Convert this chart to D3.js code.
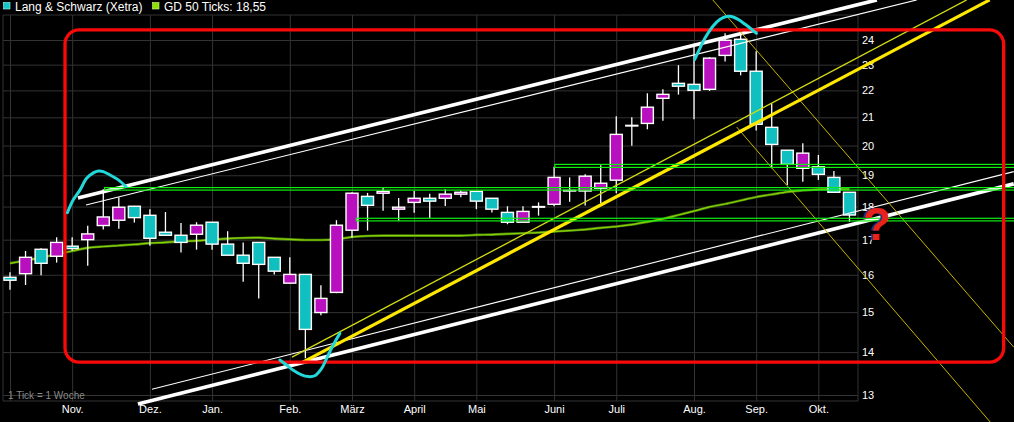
<!DOCTYPE html>
<html><head><meta charset="utf-8">
<script src="https://cdn.jsdelivr.net/npm/d3@7/dist/d3.min.js"></script>
<style>html,body{margin:0;padding:0;background:#000;overflow:hidden}svg{display:block;font-family:"Liberation Sans",Arial,sans-serif}</style>
</head><body><svg id="c" width="1014" height="422"></svg>
<script>
// ---------- data (weekly candles, Lang & Schwarz / Xetra) ----------
const weekIdx = d3.range(55);
const open  = [15.93,16.03,16.72,16.52,16.81,17.00,17.42,17.58,18.01,17.73,17.22,17.13,17.16,17.52,16.87,16.55,16.92,16.49,15.77,16.01,14.99,15.52,17.28,18.32,18.42,17.92,18.13,18.26,18.26,18.39,18.48,18.26,17.82,17.52,18.00,18.07,18.51,18.49,18.58,18.84,20.71,20.78,21.70,22.27,22.23,22.04,23.37,24.03,22.74,20.64,19.84,19.23,19.28,18.93,18.45];
const high  = [16.07,16.67,16.75,17.07,17.07,17.41,18.55,18.29,18.02,17.92,17.83,17.50,17.52,17.53,17.25,16.92,16.93,16.50,16.49,16.02,15.71,17.58,18.45,18.43,18.59,18.27,18.49,18.40,18.55,18.51,18.49,18.27,18.01,18.01,18.13,19.28,18.93,19.03,19.33,21.04,21.00,21.89,22.04,22.98,23.85,23.30,24.28,24.28,23.54,21.51,19.85,20.08,19.68,19.14,18.46];
const low   = [15.59,15.72,15.99,16.34,16.68,16.25,17.30,17.32,17.51,16.82,17.13,16.63,16.71,16.71,16.55,15.81,15.36,16.01,15.77,13.85,14.92,15.50,17.06,17.27,17.87,17.56,17.81,17.65,18.02,18.29,17.92,17.82,17.46,17.52,17.72,18.01,18.15,18.03,18.10,18.42,19.99,20.57,20.88,21.84,20.93,21.98,23.13,22.58,20.53,19.23,18.68,18.79,18.85,18.44,17.53];
const close = [15.85,16.49,16.32,16.92,16.74,17.17,17.68,17.98,17.66,17.04,17.13,16.92,17.43,16.87,16.55,16.32,16.29,16.10,16.01,14.56,15.36,17.43,18.42,18.04,18.48,17.98,18.26,18.17,18.39,18.45,18.17,17.92,17.52,17.85,18.00,18.93,18.51,18.97,18.74,20.39,20.71,21.37,21.85,22.16,22.00,23.26,23.99,22.74,20.75,20.04,19.36,19.74,19.03,18.45,17.74];
const ma50  = [16.32,16.40,16.48,16.58,16.67,16.76,16.80,16.83,16.86,16.90,16.92,16.95,16.97,17.00,17.03,17.05,17.06,17.03,17.01,16.99,16.99,17.01,17.08,17.11,17.12,17.12,17.12,17.12,17.12,17.12,17.14,17.15,17.17,17.19,17.21,17.24,17.27,17.30,17.35,17.39,17.45,17.53,17.62,17.74,17.86,17.99,18.08,18.19,18.30,18.38,18.46,18.51,18.54,18.55,18.55];

const monthIdx    = [0,4,9,13,18,22,26,30,35,39,44,48,52];
const monthLabels = ["","Nov.","Dez.","Jan.","Feb.","März","April","Mai","Juni","Juli","Aug.","Sep.","Okt."];
const priceTicks  = [13,14,15,16,17,18,19,20,21,22,23,24];
const legendItems = ["Lang & Schwarz (Xetra)","GD 50 Ticks: 18,55"];
const tickNote    = "1 Tick = 1 Woche";

// ---------- drawn annotations, in [week, price] ----------
const thickWhite = [[[4.37,18.27],[55.76,25.72]], [[8.23,12.80],[64.57,18.72]]];
const thinWhite  = [[[4.89,18.05],[58.33,25.72]], [[9.13,13.13],[64.57,19.12]]];
const thickYellow = [[18.84,13.76],[63.02,25.72]];
const thinYellow  = [[18.14,13.88],[61.54,25.72]];
const declineLines = [[[45.21,25.72],[64.57,14.12]], [[46.75,20.65],[63.15,12.37]]];
const greenBands = [[35.05,19.36,19.26],[6.08,18.60,18.52],[22.28,17.64,17.56]];
const redBox = {x0:3.54, x1:63.92, top:24.42, bottom:13.76};
const cyanArcs = [
  [[3.69,17.81],[4.07,18.21],[4.50,18.52],[4.93,18.90],[5.36,19.08],[5.68,19.14],[6.00,19.12],[6.43,19.01],[6.97,18.85],[7.46,18.63]],
  [[17.36,13.81],[17.79,13.69],[18.22,13.57],[18.76,13.46],[19.18,13.42],[19.61,13.44],[20.05,13.61],[20.37,13.85],[20.79,14.17],[21.22,14.46]],
  [[44.05,23.21],[44.33,23.59],[44.70,24.07],[45.23,24.59],[45.66,24.87],[46.09,24.99],[46.41,24.99],[46.84,24.87],[47.27,24.67],[47.70,24.45],[48.02,24.28]]
];
const questionMark = [55.76,17.0];

// ---------- layout ----------
const L=3, R=858, T=15, B=401;
const svg = d3.select("#c");
svg.append("rect").attr("width",1014).attr("height",422).attr("fill","#000");
const x = d3.scaleLinear().domain([-0.45,54.55]).range([L,R]);
const y = d3.scaleLog().domain([13,24]).range([395,40]);
const gridCol="#333";

// y grid + labels
const yAx = svg.append("g").attr("transform",`translate(${R},0)`)
  .call(d3.axisRight(y).tickValues(priceTicks).tickFormat(d3.format("d")).tickSize(-(R-L)).tickPadding(4));
yAx.select(".domain").remove();
yAx.selectAll("line").attr("stroke",gridCol);
yAx.selectAll("text").attr("fill","#fff").style("font-size","11px").style("font-family","'Liberation Sans',Arial,sans-serif");

// x grid + labels
const xAx = svg.append("g").attr("transform",`translate(0,${B})`)
  .call(d3.axisBottom(x).tickValues(monthIdx).tickFormat((d,i)=>monthLabels[i]).tickSize(-(B-T)).tickPadding(4));
xAx.select(".domain").remove();
xAx.selectAll("line").attr("stroke",gridCol);
xAx.selectAll("text").attr("fill","#fff").style("font-size","11px").style("font-family","'Liberation Sans',Arial,sans-serif");

// frame
svg.append("path").attr("d",`M${L},${T}H${R}V${B}H${L}Z`).attr("fill","none").attr("stroke",gridCol);

// note
svg.append("text").attr("x",8).attr("y",398.5).attr("fill","#8a8a8a").style("font-size","10px").text(tickNote);

// legend
svg.append("rect").attr("x",3.5).attr("y",2.5).attr("width",6.5).attr("height",6.5).attr("fill","#18c4c4").attr("stroke","#9ff").attr("stroke-width",0.6);
svg.append("text").attr("x",15).attr("y",10.5).attr("fill","#fff").style("font-size","12px").text(legendItems[0]);
svg.append("rect").attr("x",152.5).attr("y",2.5).attr("width",6.5).attr("height",6.5).attr("fill","#8ee000").attr("stroke","#cf8").attr("stroke-width",0.6);
svg.append("text").attr("x",164).attr("y",10.5).attr("fill","#fff").style("font-size","12px").text(legendItems[1]);

// moving average
const maLine = d3.line().x((d,i)=>x(weekIdx[i])).y(d=>y(d)).curve(d3.curveMonotoneX);
svg.append("path").datum(ma50).attr("d",maLine).attr("fill","none").attr("stroke","#3f7f10").attr("stroke-width",2.6);
svg.append("path").datum(ma50).attr("d",maLine).attr("fill","none").attr("stroke","#8fd000").attr("stroke-width",1.2);

// candles
const cdl = svg.append("g");
weekIdx.forEach(i=>{
  const cx = x(i);
  cdl.append("line").attr("x1",cx).attr("x2",cx).attr("y1",y(high[i])).attr("y2",y(low[i])).attr("stroke","#fff").attr("stroke-width",1.3);
  const top = y(Math.max(open[i],close[i])), bot = y(Math.min(open[i],close[i]));
  const col = close[i]>open[i] ? "#b80fbf" : (close[i]<open[i] ? "#10bfbf" : "#fff");
  cdl.append("rect").attr("x",cx-6).attr("y",top).attr("width",12).attr("height",Math.max(bot-top,0.6))
    .attr("fill",col).attr("stroke","#fff").attr("stroke-width",1.4);
});

// annotations
const ln = d3.line().x(d=>x(d[0])).y(d=>y(d[1]));
const ann = svg.append("g").attr("fill","none");
thinWhite.forEach(s=>ann.append("path").attr("d",ln(s)).attr("stroke","#fff").attr("stroke-width",1.1));
thickWhite.forEach(s=>ann.append("path").attr("d",ln(s)).attr("stroke","#fff").attr("stroke-width",3.6));
declineLines.forEach(s=>ann.append("path").attr("d",ln(s)).attr("stroke","#c8b400").attr("stroke-width",1));
ann.append("path").attr("d",ln(thinYellow)).attr("stroke","#d4dc10").attr("stroke-width",1.3);
ann.append("path").attr("d",ln(thickYellow)).attr("stroke","#ffe800").attr("stroke-width",3.2);
greenBands.forEach(g=>ann.append("rect").attr("x",x(g[0])).attr("y",y(g[1])).attr("width",1100-x(g[0])).attr("height",y(g[2])-y(g[1]))
  .attr("stroke","#10ee10").attr("stroke-width",1.2));
ann.append("rect").attr("x",x(redBox.x0)).attr("y",y(redBox.top)).attr("width",x(redBox.x1)-x(redBox.x0)).attr("height",y(redBox.bottom)-y(redBox.top))
  .attr("rx",14).attr("stroke","#f80a0a").attr("stroke-width",3.3);
const arcLine = d3.line().x(d=>x(d[0])).y(d=>y(d[1])).curve(d3.curveCatmullRom);
cyanArcs.forEach(a=>ann.append("path").attr("d",arcLine(a)).attr("stroke","#22d8d8").attr("stroke-width",3).attr("stroke-linecap","round"));

// question mark
svg.append("text").attr("x",x(questionMark[0])-1.5).attr("y",y(questionMark[1])).attr("text-anchor","middle")
  .attr("fill","#1a3aa0").style("font-size","46px").style("font-weight","bold").text("?");
svg.append("text").attr("x",x(questionMark[0])).attr("y",y(questionMark[1])).attr("text-anchor","middle")
  .attr("fill","#e8221c").style("font-size","46px").style("font-weight","bold").text("?");
</script></body></html>
